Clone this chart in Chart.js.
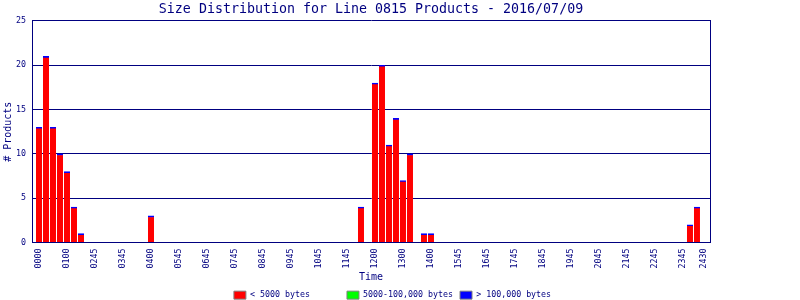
<!DOCTYPE html>
<html>
<head>
<meta charset="utf-8">
<script src="https://cdn.jsdelivr.net/npm/chart.js@4/dist/chart.umd.min.js"></script>
<style>
  html, body { margin: 0; padding: 0; background: #ffffff; }
  canvas { display: block; }
</style>
</head>
<body>
<canvas id="c" width="800" height="300"></canvas>
<script>
// Counts per 15-minute slot (slot index 0..95)
const smallValues = [
  13, 21, 13, 10, 8, 4, 1, 0, 0, 0, 0, 0,
  0, 0, 0, 0, 3, 0, 0, 0, 0, 0, 0, 0,
  0, 0, 0, 0, 0, 0, 0, 0, 0, 0, 0, 0,
  0, 0, 0, 0, 0, 0, 0, 0, 0, 0, 4, 0,
  18, 20, 11, 14, 7, 10, 0, 1, 1, 0, 0, 0,
  0, 0, 0, 0, 0, 0, 0, 0, 0, 0, 0, 0,
  0, 0, 0, 0, 0, 0, 0, 0, 0, 0, 0, 0,
  0, 0, 0, 0, 0, 0, 0, 0, 0, 2, 4, 0
];
const midValues = [
  0,0,0,0,0,0,0,0,0,0,0,0, 0,0,0,0,0,0,0,0,0,0,0,0,
  0,0,0,0,0,0,0,0,0,0,0,0, 0,0,0,0,0,0,0,0,0,0,0,0,
  0,0,0,0,0,0,0,0,0,0,0,0, 0,0,0,0,0,0,0,0,0,0,0,0,
  0,0,0,0,0,0,0,0,0,0,0,0, 0,0,0,0,0,0,0,0,0,0,0,0
];
const largeValues = [
  0,0,0,0,0,0,0,0,0,0,0,0, 0,0,0,0,0,0,0,0,0,0,0,0,
  0,0,0,0,0,0,0,0,0,0,0,0, 0,0,0,0,0,0,0,0,0,0,0,0,
  0,0,0,0,0,0,0,0,0,0,0,0, 0,0,0,0,0,0,0,0,0,0,0,0,
  0,0,0,0,0,0,0,0,0,0,0,0, 0,0,0,0,0,0,0,0,0,0,0,0
];
const seriesNames = ['< 5000 bytes', '5000-100,000 bytes', '> 100,000 bytes'];
const seriesColors = ['#ff0000', '#00ff00', '#0000ff'];
const tickSlots = [0, 4, 8, 12, 16, 20, 24, 28, 32, 36, 40, 44, 48, 52, 56, 60, 64, 68, 72, 76, 80, 84, 88, 92, 95];
const tickLabels = ['0000', '0100', '0245', '0345', '0400', '0545', '0645', '0745', '0845', '0945', '1045', '1145',
  '1200', '1300', '1400', '1545', '1645', '1745', '1845', '1945', '2045', '2145', '2245', '2345', '2430'];
const titleText = 'Size Distribution for Line 0815 Products - 2016/07/09';
const xTitle = 'Time';
const yTitle = '# Products';

const NAVY = '#000080';
const MONO = "'DejaVu Sans Mono', 'Liberation Mono', monospace";

function toPoints(arr) {
  return arr.map((v, i) => ({ x: i, y: v === 0 ? null : v }));
}

const legendPad = [19, 19, 18];

new Chart(document.getElementById('c'), {
  type: 'bar',
  data: {
    datasets: [
      { label: seriesNames[0], data: toPoints(smallValues), backgroundColor: seriesColors[0],
        borderColor: '#0000ff', borderWidth: { top: 1.6, left: 0, right: 0, bottom: 0 }, borderSkipped: 'bottom',
        barThickness: 6, grouped: false, xAxisID: 'x', yAxisID: 'y' },
      { label: seriesNames[1], data: toPoints(midValues), backgroundColor: seriesColors[1],
        barThickness: 6, grouped: false, xAxisID: 'x', yAxisID: 'y' },
      { label: seriesNames[2], data: toPoints(largeValues), backgroundColor: seriesColors[2],
        barThickness: 6, grouped: false, xAxisID: 'x', yAxisID: 'y' }
    ]
  },
  options: {
    responsive: false,
    animation: false,
    devicePixelRatio: 1,
    layout: { padding: { left: 0, right: 0, top: 0, bottom: 0 } },
    plugins: {
      tooltip: { enabled: false },
      title: {
        display: true, text: titleText, color: NAVY, fullSize: false,
        font: { family: MONO, size: 13.3, weight: 'normal' },
        padding: { top: 2, bottom: 3 }
      },
      legend: {
        position: 'bottom',
        maxHeight: 11,
        labels: {
          color: NAVY,
          font: { family: MONO, size: 8.3 },
          boxWidth: 12, boxHeight: 8, padding: 2,
          generateLabels: (chart) => seriesNames.map((n, i) => ({
            text: n.padEnd(legendPad[i], ' '),
            fillStyle: seriesColors[i],
            strokeStyle: '#808080',
            lineWidth: 1,
            fontColor: NAVY,
            hidden: false,
            datasetIndex: i
          }))
        }
      }
    },
    scales: {
      x: {
        type: 'linear',
        position: 'bottom',
        min: -1, max: 95.86,
        offset: false,
        grid: { display: false, drawTicks: false, offset: false },
        border: { display: true, color: NAVY, width: 1 },
        afterBuildTicks: (s) => { s.ticks = tickSlots.map(v => ({ value: v })); },
        afterFit: (s) => { s.height = 46.5; },
        ticks: {
          autoSkip: false, minRotation: 90, maxRotation: 90, padding: 6,
          color: NAVY, font: { family: MONO, size: 8.3 },
          callback: (v) => { const k = tickSlots.indexOf(v); return k >= 0 ? tickLabels[k] : ''; }
        },
        title: { display: true, text: xTitle, color: NAVY, font: { family: MONO, size: 10 }, padding: { top: 4, bottom: 6 } }
      },
      y: {
        type: 'linear',
        position: 'left',
        min: 0, max: 25,
        grid: { color: NAVY, lineWidth: 1, drawTicks: false },
        border: { display: true, color: NAVY, width: 1 },
        afterFit: (s) => { s.width = 32; },
        ticks: { stepSize: 5, padding: 6, color: NAVY, font: { family: MONO, size: 8.3 } },
        title: { display: true, text: yTitle, color: NAVY, font: { family: MONO, size: 10 }, padding: { top: 2, bottom: 0 } }
      },
      yR: {
        type: 'linear',
        position: 'right',
        display: true,
        grid: { display: false, drawTicks: false },
        ticks: { display: false },
        border: { display: true, color: NAVY, width: 1 },
        afterFit: (s) => { s.width = 90; }
      }
    }
  }
});
</script>
</body>
</html>
